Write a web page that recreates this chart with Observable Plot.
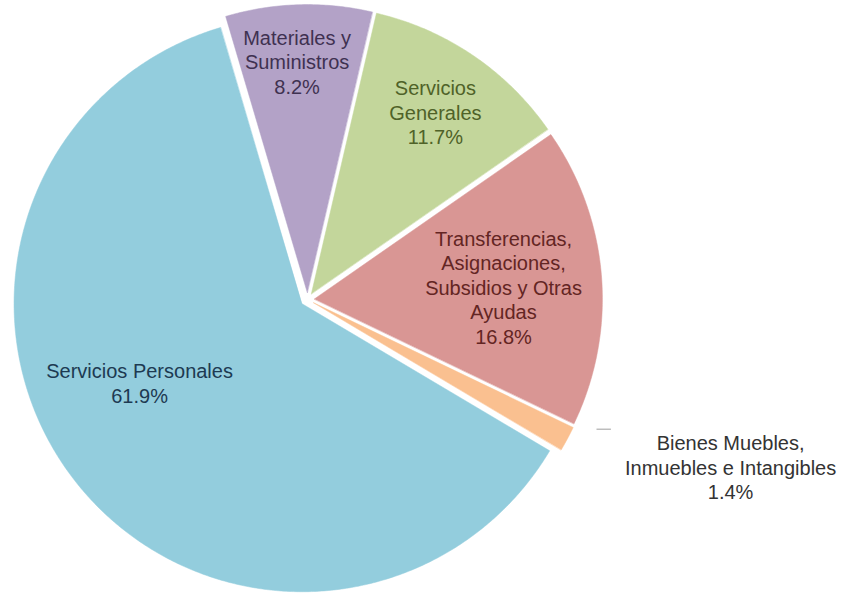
<!DOCTYPE html>
<html>
<head>
<meta charset="utf-8">
<script src="https://cdn.jsdelivr.net/npm/d3@7"></script>
<script src="https://cdn.jsdelivr.net/npm/@observablehq/plot@0.6"></script>
<style>
  html, body { margin: 0; padding: 0; background: #ffffff; }
  #chart { width: 843px; height: 594px; }
  #chart svg text { font-family: "Liberation Sans", Arimo, Arial, sans-serif; }
</style>
</head>
<body>
<div id="chart"></div>
<script>
// ---- Data ----
const categories = [
  "Servicios Personales",
  "Materiales y Suministros",
  "Servicios Generales",
  "Transferencias, Asignaciones, Subsidios y Otras Ayudas",
  "Bienes Muebles, Inmuebles e Intangibles"
];
const shares = [61.9, 8.2, 11.7, 16.8, 1.4];
const labelLines = [
  ["Servicios Personales"],
  ["Materiales y", "Suministros"],
  ["Servicios", "Generales"],
  ["Transferencias,", "Asignaciones,", "Subsidios y Otras", "Ayudas"],
  ["Bienes Muebles,", "Inmuebles e Intangibles"]
];

// ---- Styling / layout ----
const sliceColors = ["#93cddd", "#b3a2c7", "#c3d69b", "#d99694", "#fac090"];
const textColors  = ["#1d3a52", "#3f3151", "#4f6228", "#632523", "#333333"];
const startAngle = 120.7;            // degrees, clockwise from 12 o'clock
const explode = 0.024;               // fraction of radius
const labelAngle  = [243.6, 357.5, 34.3, 86.35, 111.6];
const labelRadius = [0.651, 0.827, 0.788, 0.682, 1.58];

const W = 843, H = 594, R = 288, CX = 307, CY = 299;

// ---- Geometry derived from data ----
const total = d3.sum(shares);
let acc = startAngle;
const slices = categories.map((c, i) => {
  const a0 = acc, a1 = acc + shares[i] / total * 360;
  acc = a1;
  return {c, i, a0, a1, mid: (a0 + a1) / 2};
});
const rad = a => a * Math.PI / 180;
const polar = (a, r) => [Math.sin(rad(a)) * r, Math.cos(rad(a)) * r];

const pts = [];
for (const s of slices) {
  const [ox, oy] = polar(s.mid, explode);
  pts.push({c: s.c, i: s.i, x: ox, y: oy});
  const n = Math.max(2, Math.ceil((s.a1 - s.a0) / 0.5));
  for (let k = 0; k <= n; k++) {
    const a = s.a0 + (s.a1 - s.a0) * k / n;
    const [px, py] = polar(a, 1);
    pts.push({c: s.c, i: s.i, x: px + ox, y: py + oy});
  }
}

const labels = slices.map(s => {
  const [x, y] = polar(labelAngle[s.i], labelRadius[s.i]);
  const lines = labelLines[s.i].concat([shares[s.i].toFixed(1) + "%"]);
  return {c: s.c, i: s.i, x, y, text: lines.join("\n")};
});

// leader line for the small outside slice
const small = slices[4];
const [lx1, ly1] = polar(small.mid - 4, 1.10);
const leader = [{x1: lx1, y1: ly1, x2: lx1 + 0.05, y2: ly1}];

const chart = Plot.plot({
  width: W,
  height: H,
  margin: 0,
  style: {background: "#ffffff", fontFamily: "Liberation Sans, Arimo, Arial, sans-serif"},
  x: {domain: [-CX / R, (W - CX) / R], axis: null},
  y: {domain: [-(H - CY) / R, CY / R], axis: null},
  color: {domain: categories, range: sliceColors},
  marks: [
    Plot.line(pts, {
      x: "x", y: "y", z: "c",
      fill: "c",
      stroke: "c",
      strokeWidth: 0.5,
      curve: "linear-closed"
    }),
    Plot.link(leader, {x1: "x1", y1: "y1", x2: "x2", y2: "y2", stroke: "#bdbdbd", strokeWidth: 1.5}),
    Plot.text(labels, {
      x: "x", y: "y", text: "text",
      fill: d => textColors[d.i],
      fontFamily: "Liberation Sans, Arimo, Arial, sans-serif",
      fontSize: 20,
      lineHeight: 1.225,
      lineAnchor: "middle",
      textAnchor: "middle"
    })
  ]
});
document.getElementById("chart").appendChild(chart);
</script>
</body>
</html>
